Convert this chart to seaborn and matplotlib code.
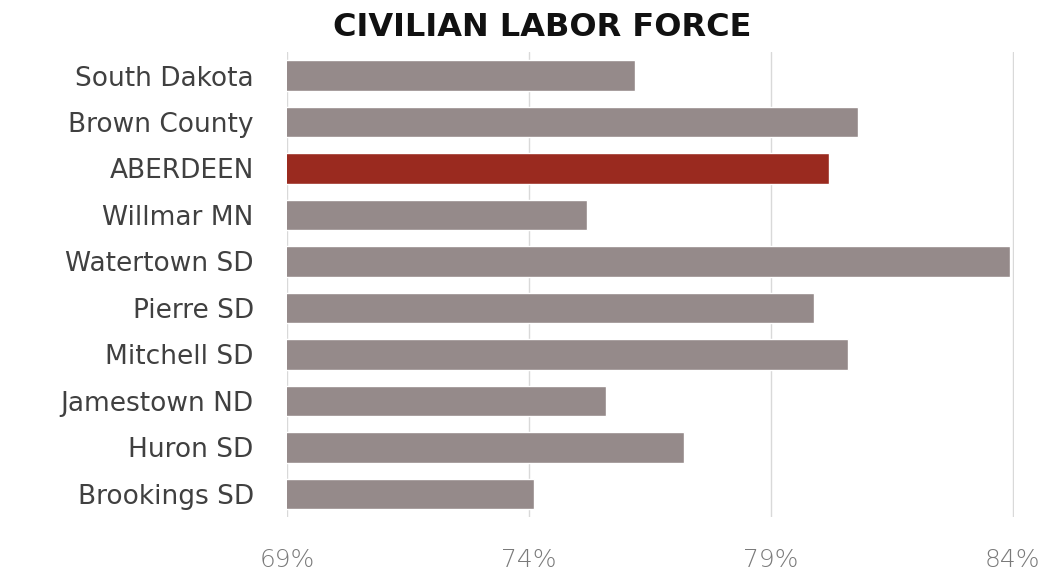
import pandas as pd
import numpy as np
import matplotlib.pyplot as plt
import seaborn as sns
from matplotlib.ticker import FuncFormatter

# datos
lugares = ['South Dakota', 'Brown County', 'ABERDEEN', 'Willmar MN', 'Watertown SD',
           'Pierre SD', 'Mitchell SD', 'Jamestown ND', 'Huron SD', 'Brookings SD']
valores = [76.2, 80.8, 80.2, 75.2, 83.95, 79.9, 80.6, 75.6, 77.2, 74.1]
destacado = 'ABERDEEN'

GRIS = '#958a8a'
ROJO = '#9a2a1f'


def graficar():
    df = pd.DataFrame({'lugar': lugares, 'valor': valores})
    df['grupo'] = np.where(df['lugar'] == destacado, 'si', 'no')

    sns.set_style('white')
    plt.rcParams['font.family'] = ['DejaVu Sans']

    fig = plt.figure(figsize=(10.49, 5.81), dpi=100)
    ax = fig.add_axes([0.2736, 0.110, 0.693, 0.800])

    sns.barplot(data=df, y='lugar', x='valor', hue='grupo', order=lugares,
                palette={'si': ROJO, 'no': GRIS}, dodge=False, width=0.66,
                saturation=1, legend=False, ax=ax)

    ax.set_xlim(69, 84.03)
    ax.set_xticks([69, 74, 79, 84])
    ax.xaxis.set_major_formatter(FuncFormatter(lambda v, p: f'{v:.0f}%'))
    ax.grid(axis='x', color='#d9d9d9', linewidth=1)
    ax.set_axisbelow(True)
    for s in ax.spines.values():
        s.set_visible(False)

    ax.set_xlabel('')
    ax.set_ylabel('')
    ax.tick_params(axis='x', labelsize=18, colors='#7a7a7a', pad=22, length=0)
    ax.tick_params(axis='y', labelsize=19, colors='#404040', pad=24, length=0)
    for t in ax.get_xticklabels():
        t.set_fontweight('light')

    fig.text(0.517, 0.953, 'CIVILIAN LABOR FORCE', ha='center', va='center',
             fontsize=23, fontweight='bold', color='#111111')

    fig.savefig('out.png', dpi=100)
    plt.close(fig)


if __name__ == '__main__':
    graficar()
